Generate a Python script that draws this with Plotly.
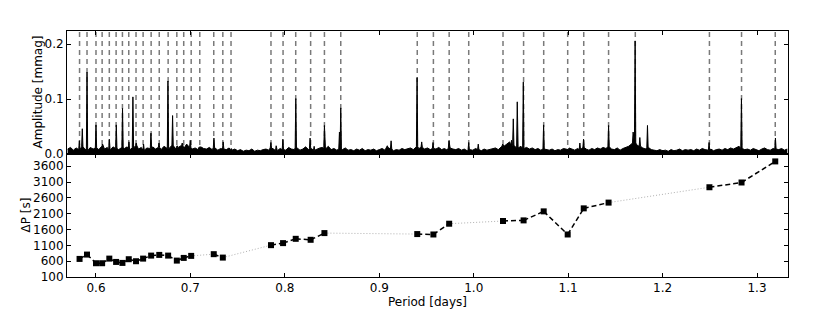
import numpy as np
import plotly.graph_objects as go
from plotly.subplots import make_subplots

# ---------------- data ----------------
# periods of the identified modes (grey dashed lines in the top panel) [days]
mode_periods = [0.5826, 0.5905, 0.6000, 0.6065, 0.6141, 0.6213, 0.6280, 0.6347,
                0.6424, 0.6499, 0.6584, 0.6670, 0.6764, 0.6856, 0.6929, 0.7008,
                0.7099, 0.7247, 0.7343, 0.7430, 0.7853, 0.7981, 0.8115, 0.8273,
                0.8419, 0.8592, 0.9402, 0.9573, 0.9740, 0.9947, 1.0310, 1.0528,
                1.0741, 1.0995, 1.1165, 1.1428, 1.1711, 1.2496, 1.2836, 1.3193]

# period spacing diagram (bottom panel)
dp_period = [0.5826, 0.5905, 0.6000, 0.6065, 0.6141, 0.6213, 0.6280, 0.6347,
             0.6424, 0.6499, 0.6584, 0.6670, 0.6764, 0.6856, 0.6929, 0.7008,
             0.7247, 0.7343,
             0.7853, 0.7981, 0.8115, 0.8273, 0.8419,
             0.9402, 0.9573, 0.9740,
             1.0310, 1.0528, 1.0741, 1.0995, 1.1165, 1.1428,
             1.2496, 1.2836, 1.3193]
dp_seconds = [671, 808, 535, 535, 681, 576, 545, 662,
              598, 681, 776, 798, 776, 618, 703, 767,
              821, 713,
              1106, 1170, 1306, 1275, 1487,
              1456, 1443, 1783,
              1868, 1888, 2173, 1443, 2268, 2450,
              2935, 3085, 3751]
dp_group = [1] * 16 + [2] * 2 + [3] * 5 + [4] * 3 + [5] * 6 + [6] * 3

# periodogram peaks (top panel)
peak_period = [0.5824, 0.5855, 0.5905, 0.6000, 0.6070, 0.6141, 0.6215, 0.6281,
               0.6349, 0.6391, 0.6426, 0.6504, 0.6582, 0.6667, 0.6762, 0.6811,
               0.6860, 0.6913, 0.6998, 0.7100, 0.7249, 0.7347, 0.7432,
               0.7852, 0.7908, 0.7979, 0.8116, 0.8267, 0.8310, 0.8419, 0.8578,
               0.8592, 0.9085, 0.9125, 0.9400, 0.9449, 0.9569, 0.9738, 0.9947,
               1.0048, 1.0306, 1.0400, 1.0419, 1.0461, 1.0525, 1.0740, 1.0994,
               1.1124, 1.1163, 1.1428, 1.1688, 1.1709, 1.1759, 1.1840, 1.2492,
               1.2835, 1.3195]
peak_amp = [0.024, 0.046, 0.149, 0.053, 0.018, 0.027, 0.053, 0.083,
            0.022, 0.104, 0.020, 0.018, 0.038, 0.020, 0.133, 0.070,
            0.015, 0.020, 0.025, 0.012, 0.029, 0.022, 0.010,
            0.021, 0.015, 0.027, 0.101, 0.029, 0.014, 0.052, 0.040,
            0.084, 0.015, 0.024, 0.139, 0.022, 0.021, 0.024, 0.021,
            0.018, 0.018, 0.025, 0.064, 0.095, 0.131, 0.053, 0.008,
            0.020, 0.027, 0.052, 0.040, 0.206, 0.030, 0.052, 0.021,
            0.101, 0.029]

# periodogram noise floor, sampled every 0.003 d from 0.570 d [0.001 mmag]
noise_start = 0.570
noise_step = 0.003
noise_level = [9, 12, 7, 11, 8, 13, 10, 6, 12, 9,
               11, 8, 14, 9, 12, 7, 13, 10, 8, 12,
               10, 13, 8, 11, 15, 9, 12, 7, 11, 10,
               13, 9, 12, 8, 14, 10, 11, 16, 9, 12,
               15, 10, 18, 12, 9, 11, 8, 13, 10, 9,
               12, 8, 11, 7, 10, 9, 8, 11, 7, 9,
               6, 8, 5, 7, 6, 9, 5, 7, 6, 8,
               9, 7, 11, 8, 6, 10, 8, 7, 12, 9,
               8, 11, 7, 9, 13, 8, 10, 7, 9, 11,
               12, 9, 14, 8, 10, 7, 9, 8, 11, 7,
               8, 6, 9, 7, 10, 6, 8, 7, 9, 6,
               8, 10, 7, 12, 9, 6, 8, 7, 10, 8,
               9, 11, 8, 13, 10, 12, 9, 11, 8, 10,
               9, 12, 8, 10, 7, 11, 9, 8, 10, 7,
               9, 6, 8, 7, 10, 8, 6, 9, 7, 8,
               9, 11, 8, 12, 14, 18, 22, 16, 13, 11,
               14, 10, 12, 9, 11, 8, 10, 7, 9, 8,
               7, 9, 6, 8, 7, 10, 8, 11, 9, 7,
               10, 8, 12, 9, 7, 10, 8, 11, 9, 12,
               10, 13, 9, 8, 11, 7, 10, 12, 14, 18,
               20, 16, 14, 11, 9, 12, 8, 7, 6, 8,
               6, 7, 5, 8, 6, 7, 9, 6, 8, 7,
               8, 6, 9, 7, 10, 8, 7, 9, 6, 8,
               9, 7, 10, 8, 11, 9, 12, 14, 10, 8,
               9, 7, 10, 8, 6, 9, 11, 8, 7, 10,
               9, 8, 10, 7, 9]

x_range = [0.5693, 1.3328]
amp_range = [0.0, 0.224]
dp_range = [100, 3985]

# ---------------- build spectrum polyline ----------------
noise_x = noise_start + noise_step * np.arange(len(noise_level))
noise_y = np.array(noise_level) * 0.001
half_w = 0.0007
pk = np.array(peak_period)
pts = []
for x, y in zip(noise_x, noise_y):
    if np.min(np.abs(pk - x)) > half_w * 1.2:
        pts.append((x, y))
for p, a in zip(peak_period, peak_amp):
    base = noise_y[np.argmin(np.abs(noise_x - p))]
    pts.append((p - half_w, base))
    pts.append((p, a))
    pts.append((p + half_w, base))
pts.sort()
spec_x = [p[0] for p in pts]
spec_y = [p[1] for p in pts]

# ---------------- figure ----------------
font = dict(family="DejaVu Sans", size=12, color="black")
fig = make_subplots(rows=2, cols=1, shared_xaxes=True, vertical_spacing=0)

# dashed mode lines
vx, vy = [], []
for p in mode_periods:
    vx += [p, p, None]
    vy += [amp_range[0], amp_range[1], None]
fig.add_trace(go.Scatter(x=vx, y=vy, mode="lines",
                         line=dict(color="#7a7a7a", width=1.5, dash="5px,4px"),
                         hoverinfo="skip", showlegend=False), row=1, col=1)
fig.add_trace(go.Scatter(x=spec_x, y=spec_y, mode="lines",
                         line=dict(color="black", width=1),
                         fill="tozeroy", fillcolor="black",
                         showlegend=False), row=1, col=1)

# period spacing segments
dx, dy, gx, gy = [], [], [], []
for i in range(len(dp_period) - 1):
    seg_x = [dp_period[i], dp_period[i + 1], None]
    seg_y = [dp_seconds[i], dp_seconds[i + 1], None]
    if dp_group[i] == dp_group[i + 1]:
        dx += seg_x
        dy += seg_y
    else:
        gx += seg_x
        gy += seg_y
fig.add_trace(go.Scatter(x=gx, y=gy, mode="lines",
                         line=dict(color="#b0b0b0", width=1, dash="1px,2px"),
                         showlegend=False), row=2, col=1)
fig.add_trace(go.Scatter(x=dx, y=dy, mode="lines",
                         line=dict(color="black", width=1.5, dash="5px,3px"),
                         showlegend=False), row=2, col=1)
fig.add_trace(go.Scatter(x=dp_period, y=dp_seconds, mode="markers",
                         marker=dict(symbol="square", size=6, color="black"),
                         showlegend=False), row=2, col=1)

axis_common = dict(showline=True, linecolor="black", linewidth=1, mirror="ticks",
                   ticks="inside", ticklen=4, tickwidth=1, tickcolor="black",
                   showgrid=False, zeroline=False, tickfont=font)

# the page body adds an 8 px offset; plot area spans x 67..788, y 31..277 in the window
W, H = 822, 304
m_l, m_t = 59, 23
m_r = W - (788 - 8)
m_b = H - (277 - 8)
plot_h = H - m_t - m_b
bottom_frac = (277.3 - 154.3) / plot_h
fig.update_layout(
    width=W, height=H,
    margin=dict(l=m_l, r=m_r, t=m_t, b=m_b, pad=0),
    paper_bgcolor="white", plot_bgcolor="white",
    font=font,
    xaxis=dict(range=x_range, showticklabels=False, tick0=0.6, dtick=0.1, **axis_common),
    xaxis2=dict(range=x_range, tick0=0.6, dtick=0.1, tickformat=".1f", **axis_common),
    yaxis=dict(range=amp_range, domain=[bottom_frac, 1], tick0=0, dtick=0.1,
               tickformat=".1f", **axis_common),
    yaxis2=dict(range=dp_range, domain=[0, bottom_frac], tick0=100, dtick=500,
                **axis_common),
    annotations=[
        dict(text="Amplitude [mmag]", textangle=-90, xref="paper", yref="paper",
             x=-(59 - 29) / 721.0, y=(1 + bottom_frac) / 2, xanchor="center",
             yanchor="middle", showarrow=False, font=font),
        dict(text="ΔP [s]", textangle=-90, xref="paper", yref="paper",
             x=-(59 - 17) / 721.0, y=bottom_frac / 2, xanchor="center",
             yanchor="middle", showarrow=False, font=font),
        dict(text="Period [days]", xref="paper", yref="paper",
             x=0.5, y=-(302 - 277) / plot_h, xanchor="center", yanchor="middle",
             showarrow=False, font=font),
    ],
)

fig.write_html("out.html")
